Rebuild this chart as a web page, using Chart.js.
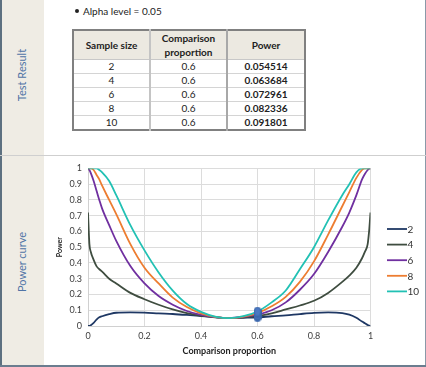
<!DOCTYPE html>
<html><head><meta charset="utf-8">
<script src="https://cdn.jsdelivr.net/npm/chart.js@4"></script>
<style>
html,body{margin:0;padding:0;background:#fff;}
#page{position:relative;width:426px;height:367px;overflow:hidden;font-family:Lato,"Open Sans",sans-serif;color:#222;}
#side{position:absolute;left:0;top:0;width:44px;height:367px;background:#efece4;}
#frameL{position:absolute;left:0;top:0;width:2px;height:367px;background:#5d7080;}
#frameR{position:absolute;left:425px;top:0;width:1px;height:367px;background:#8a99a8;}
#frameB{position:absolute;left:0;top:365px;width:426px;height:2px;background:#6b7d8f;}
#sep{position:absolute;left:0;top:155px;width:426px;height:1px;background:#cfcfcf;}
.vlab{position:absolute;left:-28px;width:100px;height:14px;line-height:14px;text-align:center;color:#4f74a6;font-size:11px;transform:rotate(-90deg);white-space:nowrap;}
#alpha{position:absolute;left:75px;top:4px;font-size:10px;line-height:14px;white-space:nowrap;}
#alpha .dot{display:inline-block;width:4px;height:4px;border-radius:50%;background:#222;margin-right:4px;vertical-align:middle;position:relative;top:-1px;}
#tbl{position:absolute;left:72px;top:29px;width:232px;border-collapse:collapse;table-layout:fixed;border:2px solid #808080;font-size:10px;}
#tbl th{background:#ece9e1;font-weight:bold;height:27px;line-height:14px;padding:0;text-align:center;border-bottom:1px solid #c8c8c8;}
#tbl td{height:13px;line-height:13px;padding:0;text-align:center;border-bottom:1px solid #d4d4d4;}
#tbl .c1{border-right:2px solid #c4c4c4;}
#tbl .c2{border-right:2px solid #a8a8a8;}
#tbl td.pw{font-weight:bold;}
#chartBox{position:absolute;left:44px;top:157px;width:380px;height:207px;}
</style>
</head>
<body>
<div id="page">
  <div id="side"></div>
  <div id="frameL"></div>
  <div id="frameR"></div>
  <div id="frameB"></div>
  <div id="sep"></div>
  <div class="vlab" style="top:68px;">Test Result</div>
  <div class="vlab" style="top:255px;">Power curve</div>
  <div id="alpha"><span class="dot"></span><span id="alphaText"></span></div>
  <table id="tbl">
    <colgroup><col style="width:77px"><col style="width:77px"><col style="width:78px"></colgroup>
    <thead><tr><th class="c1">Sample size</th><th class="c2">Comparison<br>proportion</th><th>Power</th></tr></thead>
    <tbody id="tbody"></tbody>
  </table>
  <div id="chartBox"><canvas id="c" width="380" height="207"></canvas></div>
</div>
<script>
// ---- data ----
const alphaLevel = '0.05';
const sampleSizes = ['2', '4', '6', '8', '10'];
const comparisonProportion = 0.6;
const tablePower = ['0.054514', '0.063684', '0.072961', '0.082336', '0.091801'];

const proportion = [0, 0.005, 0.01, 0.02, 0.03, 0.04, 0.05, 0.075, 0.1, 0.15, 0.2, 0.25, 0.3, 0.35, 0.4, 0.45, 0.5,
  0.55, 0.6, 0.65, 0.7, 0.75, 0.8, 0.85, 0.9, 0.925, 0.95, 0.97, 0.98, 0.99, 0.995, 1];
const power2  = [0, 0.0, 0.005, 0.02, 0.04, 0.055, 0.062, 0.075, 0.084, 0.086, 0.085, 0.08, 0.076, 0.07, 0.063, 0.056, 0.05,
  0.052, 0.0545, 0.062, 0.068, 0.076, 0.083, 0.086, 0.082, 0.072, 0.052, 0.028, 0.018, 0.006, 0.002, 0];
const power4  = [0.72, 0.52, 0.47, 0.42, 0.38, 0.36, 0.345, 0.30, 0.27, 0.21, 0.17, 0.135, 0.105, 0.082, 0.066, 0.055, 0.05,
  0.055, 0.0637, 0.08, 0.105, 0.13, 0.16, 0.21, 0.28, 0.32, 0.37, 0.43, 0.47, 0.52, 0.6, 0.72];
const power6  = [1, 0.99, 0.97, 0.92, 0.86, 0.80, 0.745, 0.64, 0.54, 0.38, 0.27, 0.19, 0.135, 0.095, 0.07, 0.056, 0.05,
  0.058, 0.073, 0.1, 0.15, 0.23, 0.33, 0.47, 0.63, 0.72, 0.83, 0.93, 0.965, 0.99, 0.998, 1];
const power8  = [1, 1, 1, 0.99, 0.96, 0.93, 0.89, 0.80, 0.71, 0.52, 0.37, 0.27, 0.18, 0.12, 0.08, 0.058, 0.05,
  0.06, 0.0823, 0.125, 0.185, 0.28, 0.41, 0.58, 0.76, 0.85, 0.94, 0.99, 1, 1, 1, 1];
const power10 = [1, 1, 1, 1, 1, 0.99, 0.975, 0.92, 0.83, 0.64, 0.48, 0.34, 0.225, 0.14, 0.09, 0.06, 0.05,
  0.062, 0.0918, 0.15, 0.225, 0.36, 0.50, 0.67, 0.83, 0.9, 0.975, 1, 1, 1, 1, 1];
const xTickLabels = ['0', '0.2', '0.4', '0.6', '0.8', '1'];
const yTickLabels = ['0', '0.1', '0.2', '0.3', '0.4', '0.5', '0.6', '0.7', '0.8', '0.9', '1'];

// ---- table ----
document.getElementById('alphaText').textContent = 'Alpha level = ' + alphaLevel;
const tb = document.getElementById('tbody');
sampleSizes.forEach((s, i) => {
  const tr = document.createElement('tr');
  tr.innerHTML = '<td class="c1">' + s + '</td><td class="c2">' + comparisonProportion + '</td><td class="pw">' + tablePower[i] + '</td>';
  tb.appendChild(tr);
});

// ---- chart ----
const seriesValues = [power2, power4, power6, power8, power10];
const seriesColors = ['#1f3864', '#3f4d40', '#7030a0', '#ed7d31', '#22c1b4'];

const marker = document.createElement('canvas');
marker.width = 8; marker.height = 10;
(function () {
  const g = marker.getContext('2d');
  g.beginPath();
  g.ellipse(4, 5, 3.4, 4.4, 0, 0, Math.PI * 2);
  g.fillStyle = '#4a78c2';
  g.fill();
  g.lineWidth = 0.8;
  g.strokeStyle = '#35609f';
  g.stroke();
})();

const datasets = [{
  type: 'scatter',
  label: 'marker',
  data: tablePower.map(v => ({x: comparisonProportion, y: parseFloat(v)})),
  pointStyle: marker,
  pointRadius: 5,
  order: 1
}];
sampleSizes.forEach((s, i) => {
  datasets.push({
    type: 'line',
    label: s,
    data: proportion.map((x, j) => ({x: x, y: seriesValues[i][j]})),
    borderColor: seriesColors[i],
    backgroundColor: seriesColors[i],
    borderWidth: 1.8,
    pointRadius: 0,
    fill: false,
    cubicInterpolationMode: 'monotone',
    order: 6 - i
  });
});

const legendPlugin = {
  id: 'sideLegend',
  afterDraw(chart) {
    const ctx = chart.ctx;
    ctx.save();
    ctx.font = '10px Lato, sans-serif';
    ctx.textBaseline = 'middle';
    ctx.textAlign = 'left';
    chart.data.datasets.filter(d => d.type === 'line').forEach((d, i) => {
      const y = 72 + i * 15.6;
      ctx.strokeStyle = d.borderColor;
      ctx.lineWidth = 1.8;
      ctx.beginPath();
      ctx.moveTo(343, y);
      ctx.lineTo(363, y);
      ctx.stroke();
      ctx.fillStyle = '#333';
      ctx.fillText(d.label, 363.5, y + 0.5);
    });
    ctx.restore();
  }
};

new Chart(document.getElementById('c'), {
  data: {datasets: datasets},
  options: {
    responsive: false,
    animation: false,
    layout: {padding: {left: 0, right: 53.5, top: 10, bottom: 0}},
    plugins: {legend: {display: false}, tooltip: {enabled: false}},
    scales: {
      x: {
        type: 'linear', min: 0, max: 1,
        afterFit: s => { s.height = 38; },
        ticks: {stepSize: 0.2, padding: 5, color: '#404040', font: {size: 9, family: 'Lato'},
          callback: (v, i) => xTickLabels[i]},
        grid: {color: '#dcdcdc', drawTicks: false},
        border: {color: '#d0d0d0'},
        title: {display: true, text: 'Comparison proportion', color: '#222',
          font: {size: 9, weight: 'bold', family: 'Lato'}, padding: 7.5}
      },
      y: {
        type: 'linear', min: 0, max: 1,
        afterFit: s => { s.width = 44; },
        ticks: {stepSize: 0.1, padding: 6, color: '#404040', font: {size: 9, family: 'Lato'},
          callback: (v, i) => yTickLabels[i]},
        grid: {color: '#dcdcdc', drawTicks: false},
        border: {color: '#d0d0d0'},
        title: {display: true, text: 'Power', color: '#222',
          font: {size: 7, weight: 'bold', family: 'Lato'}, padding: 12}
      }
    }
  },
  plugins: [legendPlugin]
});
</script>
</body></html>
